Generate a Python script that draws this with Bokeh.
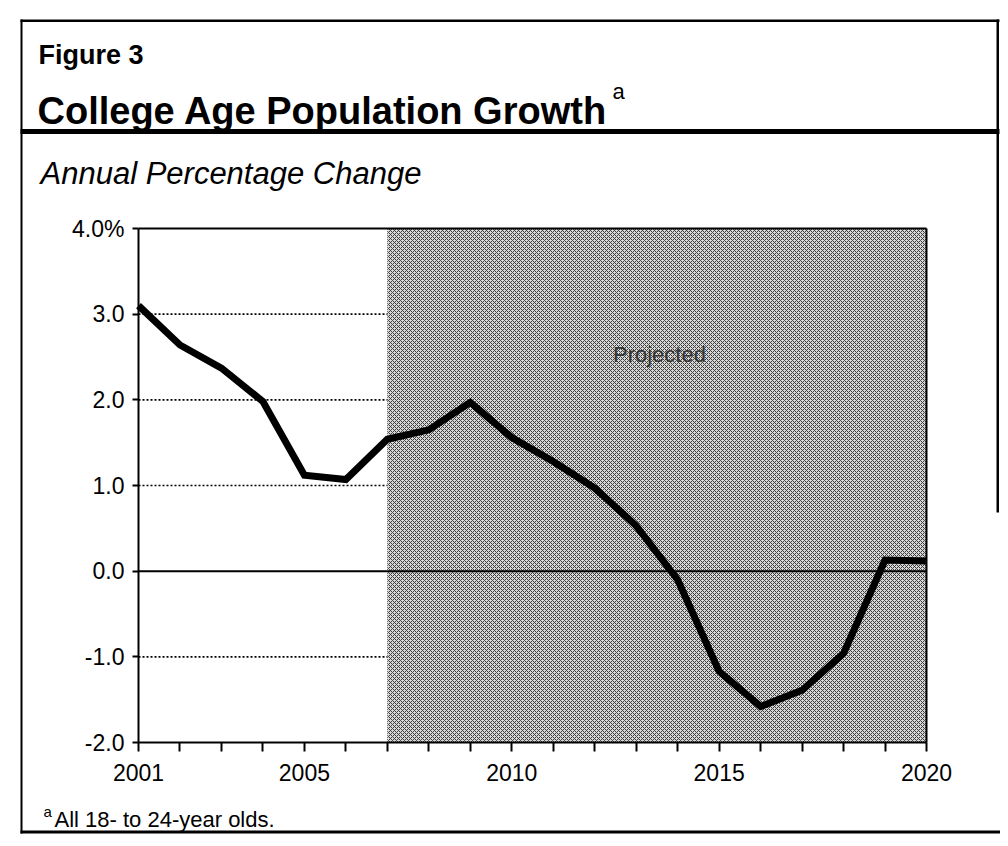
from bokeh.plotting import figure
from bokeh.models import (Range1d, FixedTicker, PrintfTickFormatter, Label,
                          BoxAnnotation, LinearAxis)
from bokeh.embed import file_html
from bokeh.resources import INLINE

# ---------------- data ----------------
years = [2001, 2002, 2003, 2004, 2005, 2006, 2007, 2008, 2009, 2010,
         2011, 2012, 2013, 2014, 2015, 2016, 2017, 2018, 2019, 2020]
growth = [3.10, 2.64, 2.37, 1.98, 1.12, 1.07, 1.54, 1.65, 1.97, 1.56,
          1.28, 0.97, 0.53, -0.10, -1.17, -1.58, -1.39, -0.96, 0.13, 0.12]
projected_start = [2007]
projected_end = [2020]
x_label_years = [2001, 2005, 2010, 2015, 2020]
y_ticks = [-2, -1, 0, 1, 2, 3, 4]
y_grid_ticks = [-1, 1, 2, 3]
y_label_overrides = {4: "4.0%"}

FONT = "Liberation Sans"

# ---------------- page geometry (px) ----------------
W, H = 1000, 838
FL, FR, FT, FB = 138, 926, 228, 742      # chart frame edges on the page
X0, X1, Y0, Y1 = years[0], years[-1], y_ticks[0], y_ticks[-1]
PXX = (FR - FL) / (X1 - X0)
PXY = (FB - FT) / (Y1 - Y0)


def X(px):
    return X0 + (px - FL) / PXX


def Y(py):
    return Y1 - (py - FT) / PXY


p = figure(width=W, height=H, output_backend="svg", toolbar_location=None,
           x_range=Range1d(X(0), X(W)), y_range=Range1d(Y(H), Y(0)),
           x_axis_location=None, y_axis_location=None, min_border=0)
p.background_fill_color = "white"
p.border_fill_color = "white"
p.outline_line_color = None
p.xgrid.visible = False
p.ygrid.visible = False

# ---------------- axes (pinned to the chart corner) ----------------
xa = LinearAxis(fixed_location=Y0, bounds=(X0, X1))
xa.ticker = FixedTicker(ticks=years)
xa.major_label_overrides = {y: (str(y) if y in x_label_years else "") for y in years}
xa.major_tick_out = 9
xa.major_tick_in = 0
xa.minor_tick_out = 0
xa.axis_line_width = 2
xa.major_tick_line_width = 2
xa.major_label_standoff = 12
xa.major_label_text_font = FONT
xa.major_label_text_font_size = "23px"
xa.major_label_text_color = "black"
p.add_layout(xa, "below")

ya = LinearAxis(fixed_location=X0, bounds=(Y0, Y1))
ya.ticker = FixedTicker(ticks=y_ticks)
ya.formatter = PrintfTickFormatter(format="%.1f")
ya.major_label_overrides = y_label_overrides
ya.major_tick_out = 6
ya.major_tick_in = 0
ya.minor_tick_out = 0
ya.axis_line_width = 2
ya.major_tick_line_width = 2
ya.major_label_standoff = 8
ya.major_label_text_font = FONT
ya.major_label_text_font_size = "23px"
ya.major_label_text_color = "black"
p.add_layout(ya, "left")

# dotted grid lines (only across the chart)
p.segment(x0=[X0] * len(y_grid_ticks), x1=[X1] * len(y_grid_ticks),
          y0=y_grid_ticks, y1=y_grid_ticks,
          line_color="black", line_dash="2 2", line_width=1.6)

# projected period shading
p.quad(left=projected_start, right=projected_end, bottom=[Y0], top=[Y1],
       fill_color="#d8d8d8", line_color=None,
       hatch_pattern="diagonal_cross", hatch_scale=4, hatch_weight=1,
       hatch_color="#3c3c3c")

# chart box: top and right edges, zero line
p.segment(x0=[X0], x1=[X1], y0=[Y1], y1=[Y1], line_color="black", line_width=2)
p.segment(x0=[X1], x1=[X1], y0=[Y0], y1=[Y1], line_color="black", line_width=2)
p.segment(x0=[X0], x1=[X1], y0=[0], y1=[0], line_color="black", line_width=2)

# data line
p.line(years, growth, line_color="black", line_width=7, line_join="miter")

p.add_layout(Label(x=2012.44, y=2.53, text="Projected", text_font=FONT,
                   text_font_size="22px", text_color="#333333",
                   text_baseline="middle", text_align="left"))


# ---------------- figure decorations ----------------
def bar(l, r, t, b):
    p.add_layout(BoxAnnotation(left=X(l), right=X(r), top=Y(t), bottom=Y(b),
                               fill_color="black", fill_alpha=1, line_color=None))


bar(20, 999, 19, 21.5)        # top border
bar(20, 22, 19, 833)          # left border
bar(996, 998.5, 19, 512)      # right border (fades out in the scan)
bar(20, 999, 128.5, 133.5)    # thick rule under the title
bar(20, 1000, 830, 833)       # bottom rule


def text(px, py, s, size, style="normal"):
    p.add_layout(Label(x=X(px), y=Y(py), text=s, text_font=FONT,
                       text_font_style=style, text_font_size=size,
                       text_baseline="alphabetic", text_color="black"))


text(38, 54, "Figure 3", "27px", "bold")
text(37, 110, "College Age Population Growth", "38px", "bold")
text(612, 91, "a", "22px")
text(40, 173, "Annual Percentage Change", "31px", "italic")
text(43, 811, "a", "15px")
text(54, 819, "All 18- to 24-year olds.", "22px")

open("out.html", "w").write(file_html(p, INLINE))
